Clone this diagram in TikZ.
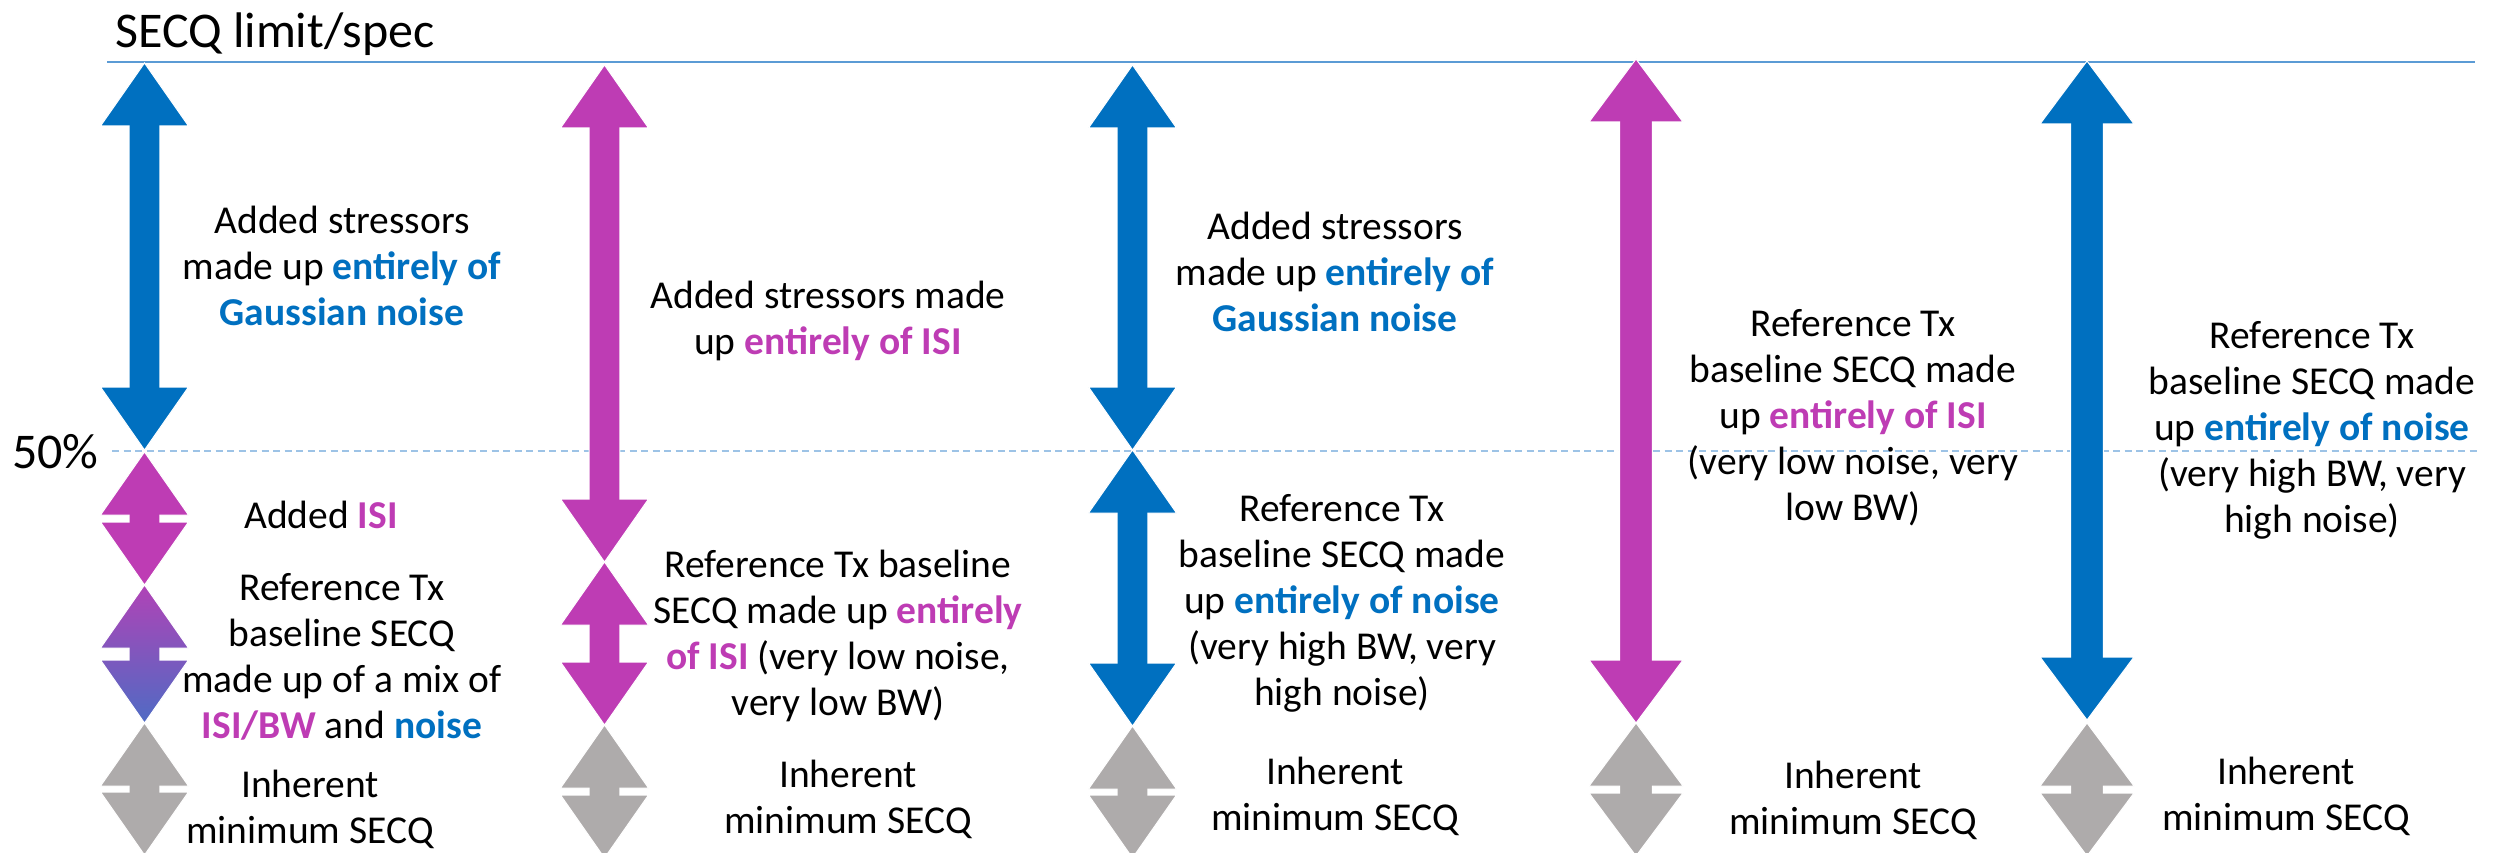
\documentclass[tikz,border=0pt]{standalone}
\usepackage{fontspec}
\setmainfont{Carlito}
\definecolor{mblue}{HTML}{0070C0}
\definecolor{mmag}{HTML}{BE3CB4}
\definecolor{mgray}{HTML}{AEABAB}
\definecolor{toplinec}{HTML}{5B9BD5}
\definecolor{dashc}{HTML}{9DC3E6}
\definecolor{gradtop}{HTML}{B043B6}
\definecolor{gradbot}{HTML}{4F6BC4}
\newcommand{\hlb}[1]{\textbf{\color{mblue}#1}}
\newcommand{\hlm}[1]{\textbf{\color{mmag}#1}}
% #1 head half width, #2 centre x, #3 top tip y, #4 bottom tip y, #5 style
\newcommand{\udarrow}[5][44]{%
  \pgfmathsetmacro{\uxa}{#2-#1}\pgfmathsetmacro{\uxd}{#2+#1}%
  \pgfmathsetmacro{\uxb}{#2-0.35*#1}\pgfmathsetmacro{\uxc}{#2+0.35*#1}%
  \pgfmathsetmacro{\uya}{#3+63}\pgfmathsetmacro{\uyb}{#4-63}%
  \path[#5] (#2,#3) -- (\uxd,\uya) -- (\uxc,\uya) -- (\uxc,\uyb) -- (\uxd,\uyb)
    -- (#2,#4) -- (\uxa,\uyb) -- (\uxb,\uyb) -- (\uxb,\uya) -- (\uxa,\uya) -- cycle;}
\tikzset{
  blueA/.style={fill=mblue, draw=white, line width=1pt},
  magA/.style={fill=mmag, draw=white, line width=1pt},
  grayA/.style={fill=mgray, draw=white, line width=1pt},
  gradA/.style={top color=gradtop, bottom color=gradbot, draw=white, line width=1pt},
  % anchor = baseline of the LAST line of the label
  lbl/.style={align=center, anchor=base, inner sep=0pt, font=\fontsize{39.5}{46}\selectfont},
  big/.style={anchor=base west, inner sep=0pt, font=\fontsize{50}{60}\selectfont},
  limitline/.style={draw=toplinec, line width=2pt},
  halfline/.style={draw=dashc, line width=2pt, dash pattern=on 7pt off 4.5pt},
}
\begin{document}
\begin{tikzpicture}[x=1pt, y=-1pt]
\useasboundingbox (0,0) rectangle (2504,853);
\clip (0,0) rectangle (2504,853);
\fill[white] (0,0) rectangle (2504,853);
% reference lines
\coordinate (limL) at (107,62.5);
\coordinate (limR) at (2475,62.5);
\coordinate (halfL) at (112,451);
\coordinate (halfR) at (2481,451);
\draw[limitline] (limL) -- (limR);
\draw[halfline] (halfL) -- (halfR);
\node[big] (title) at (115,48) {SECQ limit/spec};
\node[big] (pct) at (12,468) {50\%};
% column 1
\udarrow{144.5}{63}{450}{blueA}
\udarrow{144.5}{452}{585}{magA}
\udarrow{144.5}{585}{723}{gradA}
\udarrow{144.5}{723}{855}{grayA}
% column 2
\udarrow{604.5}{65}{562}{magA}
\udarrow{604.5}{562}{725}{magA}
\udarrow{604.5}{725}{858}{grayA}
% column 3
\udarrow{1132.5}{65}{450}{blueA}
\udarrow{1132.5}{450}{726}{blueA}
\udarrow{1132.5}{726}{858}{grayA}
% column 4
\udarrow[47]{1636}{59}{723}{magA}
\udarrow[47]{1636}{723}{856}{grayA}
% column 5
\udarrow[47]{2087}{61}{720}{blueA}
\udarrow[47]{2087}{723}{856}{grayA}
% labels column 1
\node[lbl] (c1a) at (342,325) {Added stressors\\made up \hlb{entirely of}\\\hlb{Gaussian noise}};
\node[lbl] (c1b) at (321,528) {Added \hlm{ISI}};
\node[lbl] (c1c) at (342,738) {Reference Tx\\baseline SECQ\\made up of a mix of\\\hlm{ISI/BW} and \hlb{noise}};
\node[lbl] (c1d) at (310,843) {Inherent\\minimum SECQ};
% labels column 2
\node[lbl] (c2a) at (828,354) {Added stressors made\\up \hlm{entirely of ISI}};
\node[lbl] (c2b) at (838,715) {Reference Tx baseline\\SECQ made up \hlm{entirely}\\\hlm{of ISI} (very low noise,\\very low BW)};
\node[lbl] (c2c) at (848,833) {Inherent\\minimum SECQ};
% labels column 3
\node[lbl] (c3a) at (1335,331) {Added stressors\\made up \hlb{entirely of}\\\hlb{Gaussian noise}};
\node[lbl] (c3b) at (1342,705) {Reference Tx\\baseline SECQ made\\up \hlb{entirely of noise}\\(very high BW, very\\high noise)};
\node[lbl] (c3c) at (1335,830) {Inherent\\minimum SECQ};
% labels column 4
\node[lbl] (c4a) at (1853,520) {Reference Tx\\baseline SECQ made\\up \hlm{entirely of ISI}\\(very low noise, very\\low BW)};
\node[lbl] (c4b) at (1853,834) {Inherent\\minimum SECQ};
% labels column 5
\node[lbl] (c5a) at (2312,532) {Reference Tx\\baseline SECQ made\\up \hlb{entirely of noise}\\(very high BW, very\\high noise)};
\node[lbl] (c5b) at (2286,830) {Inherent\\minimum SECQ};
\end{tikzpicture}
\end{document}
